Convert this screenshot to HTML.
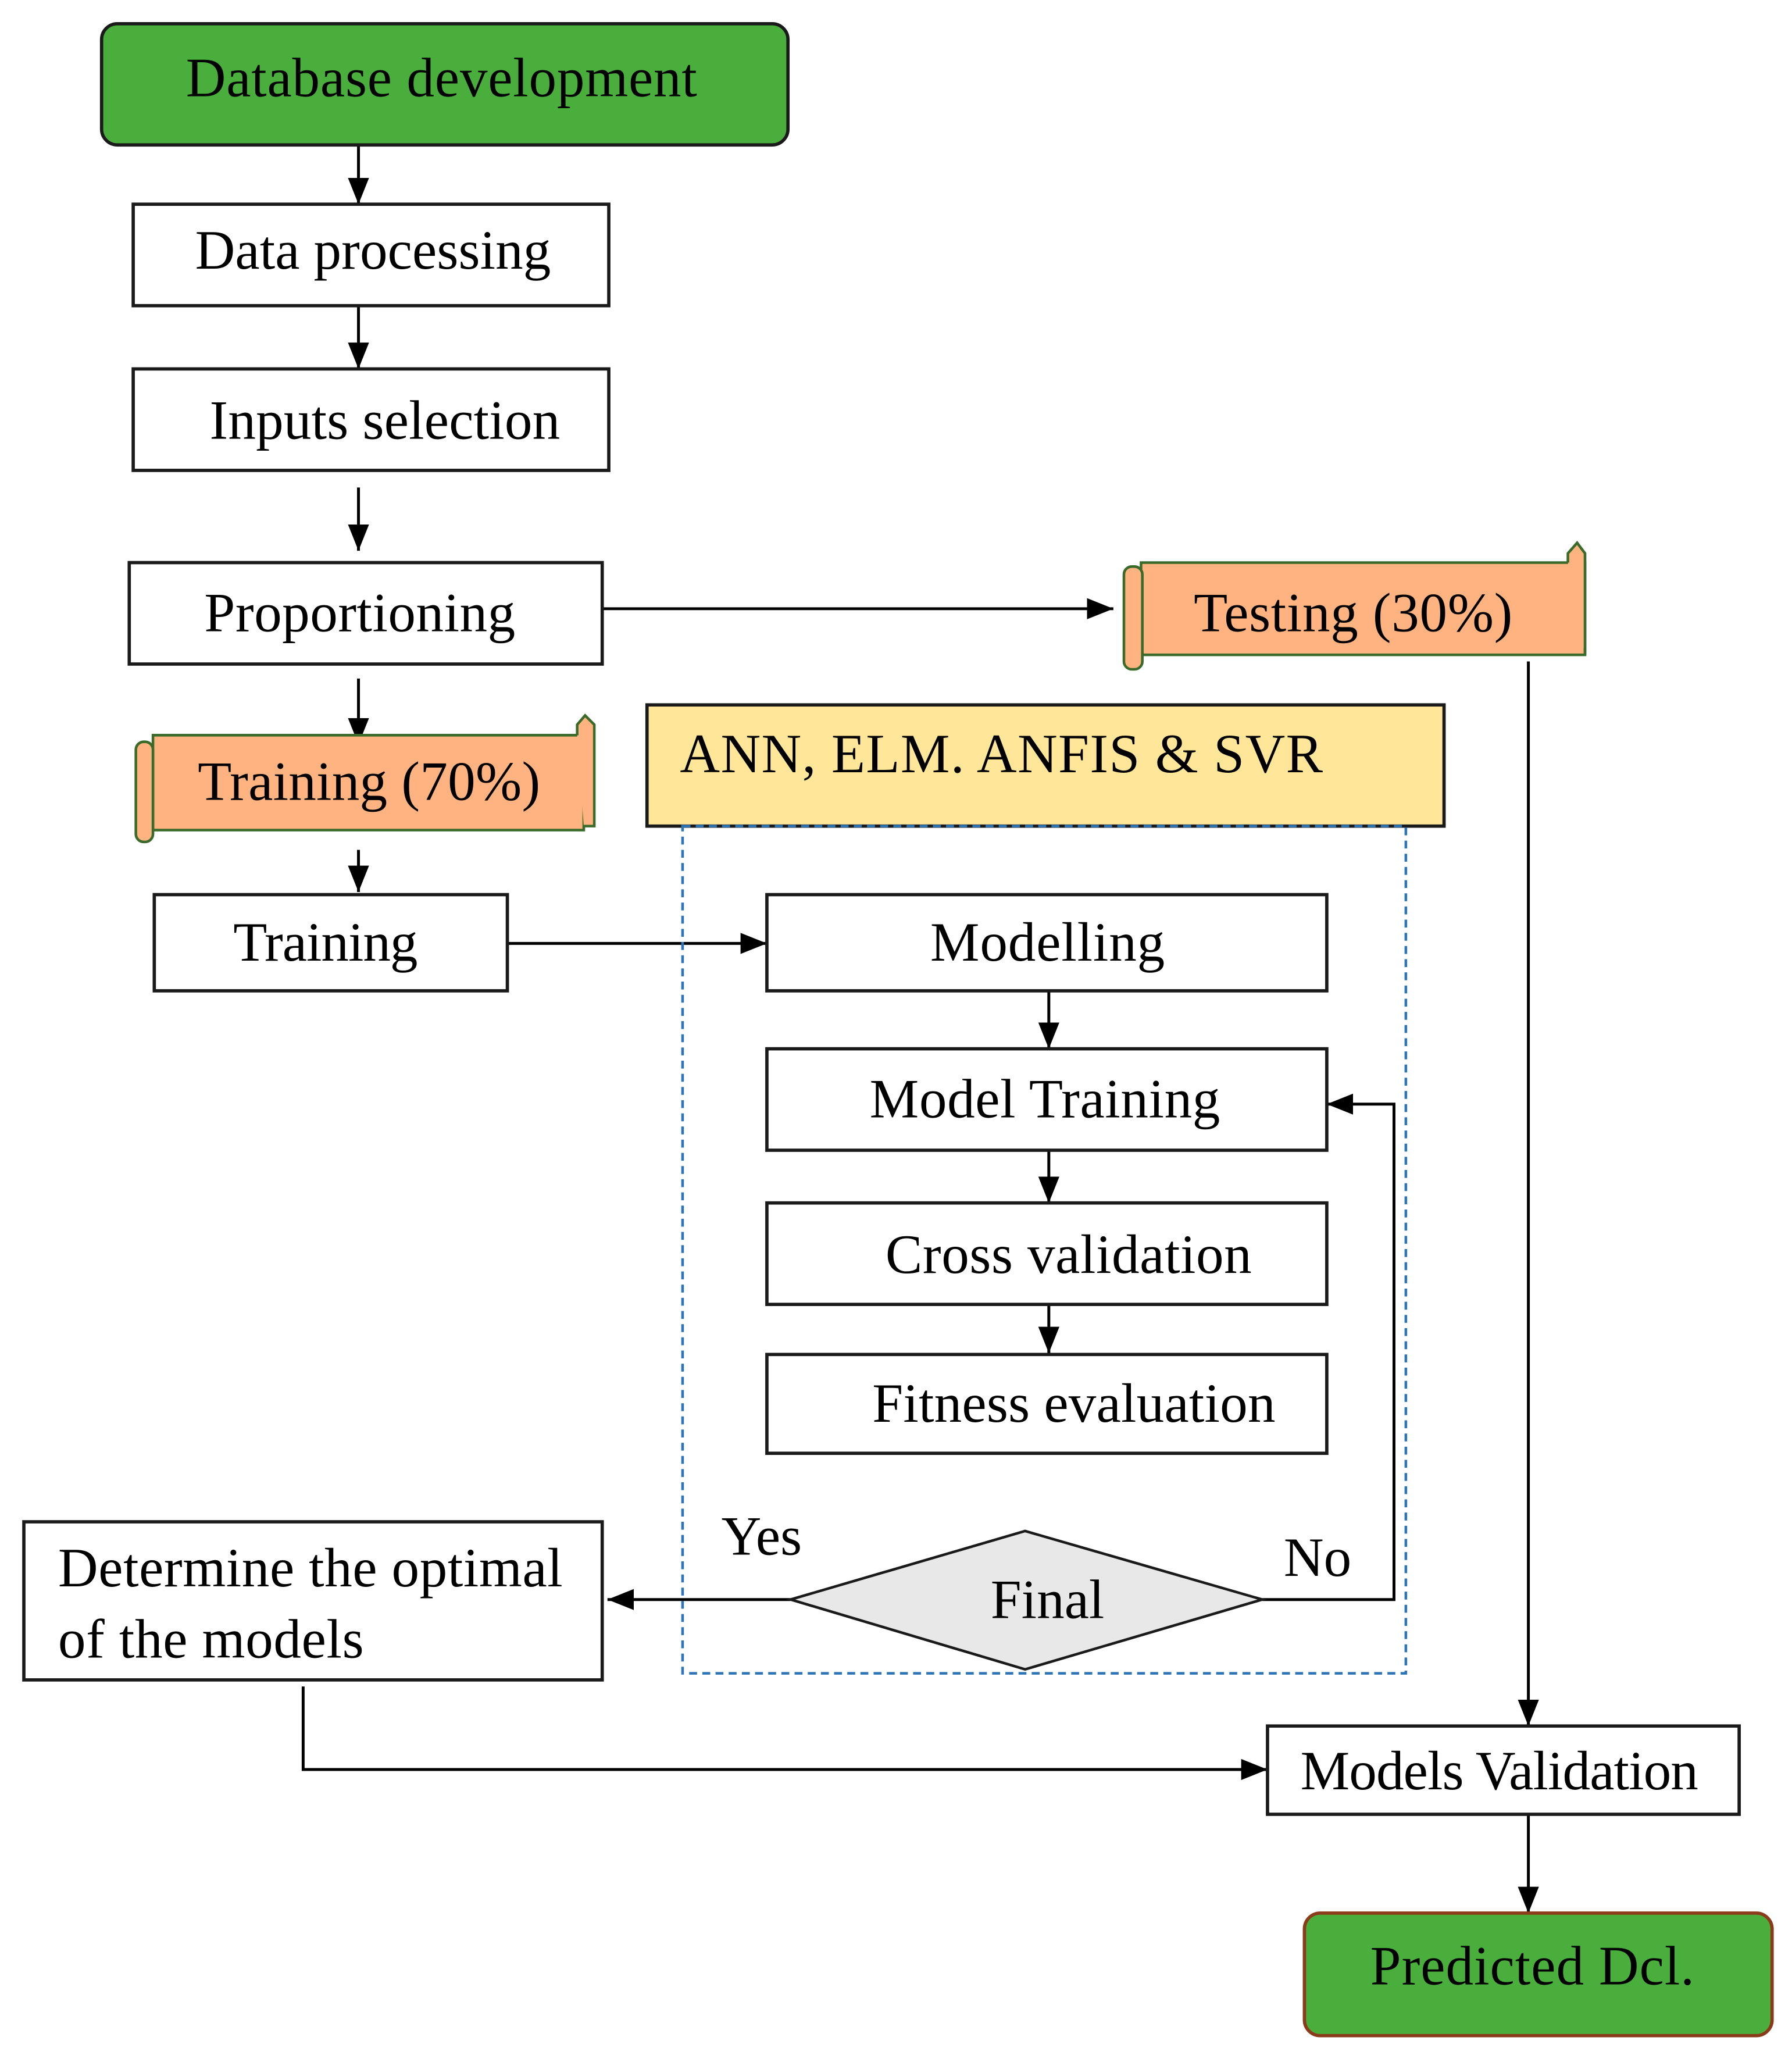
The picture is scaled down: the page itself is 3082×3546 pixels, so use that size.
<!DOCTYPE html>
<html><head><meta charset="utf-8"><style>html,body{margin:0;padding:0;background:#fff}svg{display:block}</style></head>
<body>
<svg width="3082" height="3546" viewBox="0 0 1360 1565" xmlns="http://www.w3.org/2000/svg" font-family="Liberation Serif, serif" font-size="42">
<defs>
<marker id="b" viewBox="0 0 10 10" refX="10" refY="5" markerWidth="20" markerHeight="20" markerUnits="userSpaceOnUse" orient="auto"><path d="M0,1L10,5L0,9z" fill="#000"/></marker></defs>
<g stroke="#000" stroke-width="2.2" fill="none" marker-end="url(#b)">
<path d="M272 110V155"/><path d="M272 232V280"/><path d="M272 370V418"/><path d="M457 462H845"/><path d="M272 515V565"/><path d="M272 645V677"/><path d="M385 716H582"/><path d="M796 752V796"/><path d="M796 873V913"/><path d="M796 990V1027"/><path d="M958 1214H1058V838H1007"/><path d="M600 1214H461"/><path d="M230 1280V1343H962"/><path d="M1160 502V1310"/><path d="M1160 1377V1452"/>
</g>
<rect x="77" y="18" width="521" height="92" rx="12" fill="#4aae3c" stroke="#1a1a1a" stroke-width="2.5"/>
<g fill="#fff" stroke="#1a1a1a" stroke-width="2.5">
<rect x="101" y="155" width="361" height="77"/>
<rect x="101" y="280" width="361" height="77"/>
<rect x="98" y="427" width="359" height="77"/>
<rect x="117" y="679" width="268" height="73"/>
<rect x="582" y="679" width="425" height="73"/>
<rect x="582" y="796" width="425" height="77"/>
<rect x="582" y="913" width="425" height="77"/>
<rect x="582" y="1028" width="425" height="75"/>
<rect x="18" y="1155" width="439" height="120"/>
<rect x="962" y="1310" width="358" height="67"/>
</g>
<rect x="491" y="535" width="605" height="92" fill="#ffe699" stroke="#1a1a1a" stroke-width="2.5"/>
<rect x="518" y="627" width="549" height="643" fill="none" stroke="#2e75b6" stroke-width="2" stroke-dasharray="6,4"/>
<path d="M600 1214L778 1162L958 1214L778 1267Z" fill="#e8e8e8" stroke="#1a1a1a" stroke-width="2"/>
<g fill="#ffb380" stroke="#3a6b2a" stroke-width="2">
<path d="M116 558H443V630H116Z"/><rect x="103" y="563" width="13" height="76" rx="6"/><path d="M438 558V550L444 543L451 550V627H443"/>
<path d="M866 427H1203V497H866Z"/><rect x="853" y="430" width="14" height="78" rx="6"/><path d="M1190 427V420L1197 412L1203 420V497"/>
</g>
<rect x="990" y="1452" width="355" height="93" rx="12" fill="#4aae3c" stroke="#8b3a1a" stroke-width="2.5"/>
<g fill="#000" text-anchor="middle">
<text x="335" y="73" textLength="388">Database development</text>
<text x="283" y="204" textLength="270">Data processing</text>
<text x="292" y="333" textLength="266">Inputs selection</text>
<text x="273" y="479" textLength="236">Proportioning</text>
<text x="1027" y="479" textLength="242">Testing (30%)</text>
<text x="280" y="607" textLength="260">Training (70%)</text>
<text x="760" y="586" textLength="488">ANN, ELM. ANFIS &amp; SVR</text>
<text x="247" y="729" textLength="140">Training</text>
<text x="795" y="729" textLength="178">Modelling</text>
<text x="793" y="848" textLength="266">Model Training</text>
<text x="811" y="966" textLength="278">Cross validation</text>
<text x="815" y="1079" textLength="306">Fitness evaluation</text>
<text x="795" y="1228">Final</text>
<text x="578" y="1180">Yes</text>
<text x="1000" y="1196">No</text>
<text x="1138" y="1358" textLength="302">Models Validation</text>
<text x="1163" y="1506" textLength="246">Predicted Dcl.</text>
</g>
<g fill="#000"><text x="44" y="1204" textLength="383">Determine the optimal</text><text x="44" y="1258" textLength="232">of the models</text></g>
</svg>
</body></html>
